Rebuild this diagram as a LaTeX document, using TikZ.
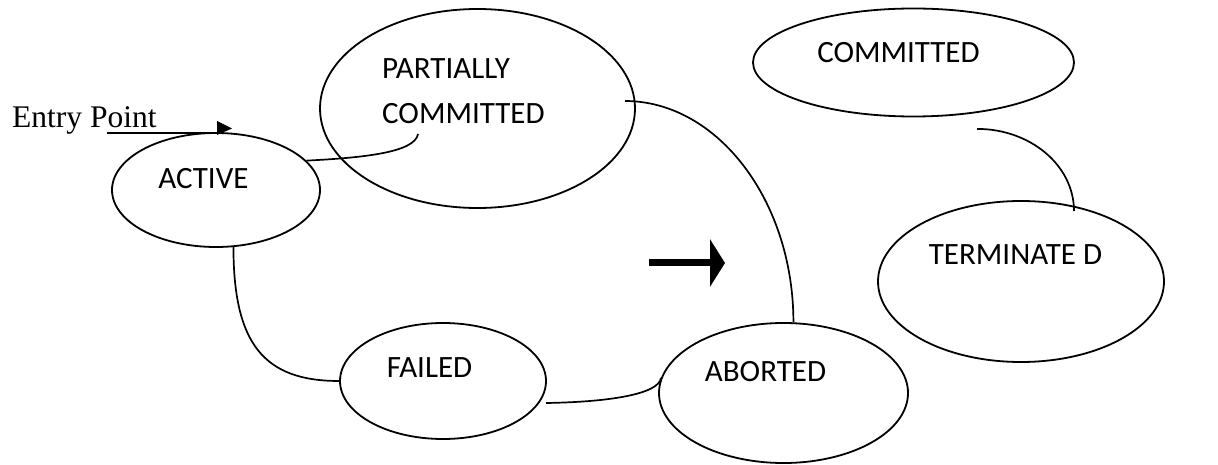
\documentclass[tikz,border=0pt]{standalone}
\usepackage{fontspec}
\setmainfont{Liberation Serif}
\newfontfamily\calib{Carlito}
\usetikzlibrary{shapes.geometric,arrows.meta}
\begin{document}
\begin{tikzpicture}[x=1pt,y=1pt,
  state/.style={draw,ellipse,line width=1.8pt,inner sep=0pt},
  lbl/.style={font=\calib\fontsize{31}{45}\selectfont,inner sep=0pt},
  conn/.style={line width=1.7pt}]
\useasboundingbox (0,0) rectangle (1218,464);
% states
\node[state,minimum width=208,minimum height=114] (active) at (216,274) {};
\node[state,minimum width=315,minimum height=199] (partial) at (477.5,355.5) {};
\node[state,minimum width=321,minimum height=108] (committed) at (913.5,401.5) {};
\node[state,minimum width=286,minimum height=161] (terminated) at (1021,182.5) {};
\node[state,minimum width=249,minimum height=140] (aborted) at (783.5,71) {};
\node[state,minimum width=206,minimum height=116] (failed) at (443,83) {};
% labels
\node[lbl] (activeT) at (203.5,285) {ACTIVE};
\node[lbl,align=left,anchor=north west] (partialT) at (382,406) {PARTIALLY\\COMMITTED};
\node[lbl] (committedT) at (898.5,411) {COMMITTED};
\node[lbl] (terminatedT) at (1015.5,209) {TERMINATE D};
\node[lbl] (abortedT) at (765.5,92) {ABORTED};
\node[lbl] (failedT) at (429.5,96) {FAILED};
% entry point
\node[font=\fontsize{31.5}{37}\selectfont,inner sep=0pt,anchor=base west] (entryT) at (12,336) {Entry Point};
\coordinate (entryS) at (107,331);
\coordinate (entryE) at (224,331);
\draw[line width=1.8pt] (entryS) -- (entryE);
\fill (217,343) -- (232,335.5) -- (217,329) -- cycle;
% connectors
\draw[conn] (active.18) .. controls +(60,3) and +(-3,-18) .. ([shift={(-59.5,-25.5)}]partial.center);
\draw[conn] ([shift={(147.5,7.5)}]partial.center) .. controls +(92,0) and +(0,122) .. (aborted.82);
\draw[conn] (active.-73) .. controls +(0,-97) and +(-75,0) .. (failed.west);
\draw[conn] ([shift={(103,-22)}]failed.center) .. controls +(64,1) and +(-2,-16) .. (aborted.173);
\draw[conn] ([shift={(63.5,-11.5)}]committed.south) .. controls +(53,0) and +(0,46) .. ([shift={(53,-11)}]terminated.north);
% thick arrow
\coordinate (arrS) at (649,201);
\coordinate (arrE) at (725,201);
\draw[line width=7pt,-{Triangle[length=15pt,width=47pt]}] (arrS) -- (arrE);
\end{tikzpicture}
\end{document}
